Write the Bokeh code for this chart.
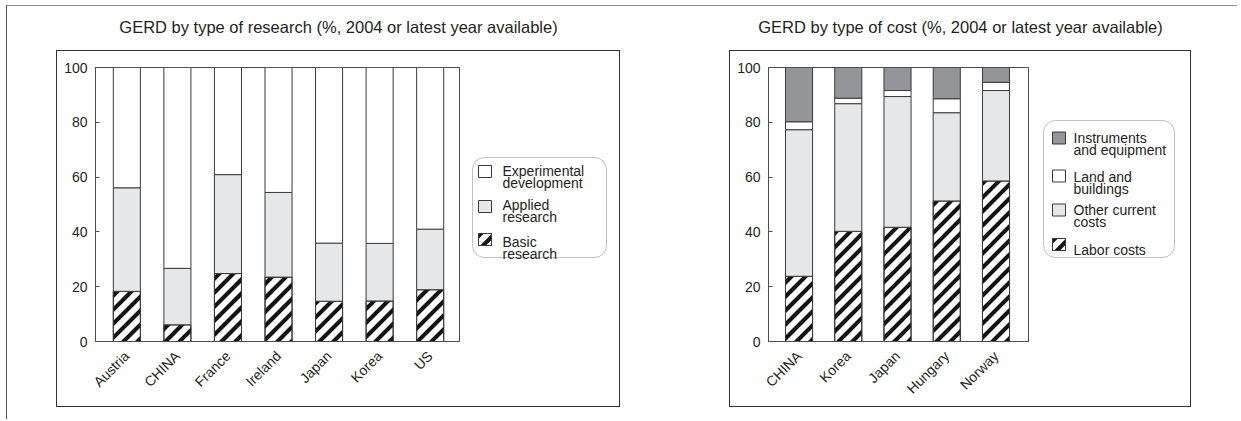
import math
from bokeh.plotting import figure
from bokeh.models import Range1d, FixedTicker, BoxAnnotation, Spacer
from bokeh.layouts import row, column
from bokeh.embed import file_html
from bokeh.resources import INLINE
from bokeh.core.properties import value

FONT = "Liberation Sans"
TXT = "#231f20"

# ---------------- data: GERD by type of research ----------------
research_title = "GERD by type of research (%, 2004 or latest year available)"
research_countries = ["Austria", "CHINA", "France", "Ireland", "Japan", "Korea", "US"]
basic_research = [18.3, 6.1, 24.8, 23.5, 14.7, 14.8, 18.9]
applied_research = [37.8, 20.6, 36.1, 30.9, 21.2, 21.0, 22.1]
experimental_development = [43.9, 73.3, 39.1, 45.6, 64.1, 64.2, 59.0]
research_legend = [["Experimental", "development"], ["Applied", "research"], ["Basic", "research"]]

# ---------------- data: GERD by type of cost ----------------
cost_title = "GERD by type of cost (%, 2004 or latest year available)"
cost_countries = ["CHINA", "Korea", "Japan", "Hungary", "Norway"]
labor_costs = [23.8, 40.2, 41.7, 51.3, 58.6]
other_current_costs = [53.5, 46.6, 47.7, 32.2, 33.0]
land_and_buildings = [2.9, 2.0, 2.2, 5.1, 3.0]
instruments_equipment = [19.8, 11.2, 8.4, 11.4, 5.4]
cost_legend = [["Instruments", "and equipment"], ["Land and", "buildings"],
               ["Other current", "costs"], ["Labor costs"]]
y_ticks = [0, 20, 40, 60, 80, 100]

WHITE = "#ffffff"
LIGHT = "#e6e7e8"
DARK = "#939598"
EDGE = "#3a3a3a"
STRIPE = "#141414"

FIG_H = 355
B_TOP, B_BOT = 16, 65
FRAME_H = FIG_H - B_TOP - B_BOT
X0 = -0.62
PERIOD = 14.0      # stripe period in screen px
HALF = 2.9         # half band width, measured along x - y (screen px)


def _clip(poly, a, b, c):
    """Sutherland-Hodgman: keep part of poly where a*x + b*y <= c."""
    out = []
    n = len(poly)
    for i in range(n):
        p, q = poly[i], poly[(i + 1) % n]
        fp = a * p[0] + b * p[1] - c
        fq = a * q[0] + b * q[1] - c
        if fp <= 0:
            out.append(p)
        if (fp < 0 < fq) or (fq < 0 < fp):
            t = fp / (fp - fq)
            out.append((p[0] + t * (q[0] - p[0]), p[1] + t * (q[1] - p[1])))
    return out


def stripe_polys(x0, x1, y0, y1, phase=0.0):
    """45-degree '/' stripes inside a screen rectangle (y up)."""
    rect = [(x0, y0), (x1, y0), (x1, y1), (x0, y1)]
    dmin, dmax = x0 - y1, x1 - y0
    k0 = math.floor((dmin - HALF - phase) / PERIOD)
    k1 = math.ceil((dmax + HALF - phase) / PERIOD)
    polys = []
    for k in range(k0, k1 + 1):
        c = phase + k * PERIOD
        poly = _clip(rect, 1, -1, c + HALF)
        poly = _clip(poly, -1, 1, -(c - HALF))
        if len(poly) >= 3:
            polys.append(poly)
    return polys


def make_chart(cats, series, styles, width, x_end, bar_w):
    p = figure(width=width, height=FIG_H, x_range=Range1d(X0, x_end),
               y_range=Range1d(0, 100), output_backend="svg", toolbar_location=None,
               min_border_left=38, min_border_right=2, min_border_top=B_TOP,
               min_border_bottom=B_BOT, background_fill_color="white",
               border_fill_color="white")
    sx = (width - 40) / (x_end - X0)
    sy = FRAME_H / 100.0
    xs = list(range(len(cats)))
    bottoms = [0.0] * len(cats)
    for vals, st in zip(series, styles):
        tops = [b + v for b, v in zip(bottoms, vals)]
        p.vbar(x=xs, width=bar_w, bottom=bottoms, top=tops, fill_color=st["fill"],
               line_color=EDGE, line_width=1)
        if st.get("hatch"):
            pxs, pys = [], []
            for x, b, t in zip(xs, bottoms, tops):
                l_px = (x - bar_w / 2 - X0) * sx
                r_px = (x + bar_w / 2 - X0) * sx
                for poly in stripe_polys(l_px, r_px, b * sy, t * sy):
                    pxs.append([q[0] / sx + X0 for q in poly])
                    pys.append([q[1] / sy for q in poly])
            p.patches(xs=pxs, ys=pys, fill_color=STRIPE, line_color=None)
            p.vbar(x=xs, width=bar_w, bottom=bottoms, top=tops, fill_color=None,
                   line_color=EDGE, line_width=1)
        bottoms = tops
    p.xgrid.visible = False
    p.ygrid.visible = False
    p.outline_line_color = "#4d4d4d"
    p.outline_line_width = 1
    p.xaxis.ticker = FixedTicker(ticks=xs)
    p.xaxis.major_label_overrides = {i: c for i, c in enumerate(cats)}
    p.xaxis.major_label_orientation = math.pi / 4
    p.xaxis.major_tick_line_color = None
    p.xaxis.minor_tick_line_color = None
    p.xaxis.major_label_standoff = 6
    p.yaxis.ticker = FixedTicker(ticks=y_ticks)
    p.yaxis.major_tick_in = 4
    p.yaxis.major_tick_out = 0
    p.yaxis.major_tick_line_color = "#4d4d4d"
    p.yaxis.minor_tick_line_color = None
    p.yaxis.major_label_standoff = 8
    for ax in (p.xaxis, p.yaxis):
        ax.axis_line_color = "#4d4d4d"
        ax.major_label_text_font = FONT
        ax.major_label_text_font_size = "14px"
        ax.major_label_text_color = TXT
    return p


def make_title(text, width, height):
    t = figure(width=width, height=height, x_range=Range1d(0, width),
               y_range=Range1d(height, 0), output_backend="svg", toolbar_location=None,
               x_axis_type=None, y_axis_type=None, min_border=0, outline_line_color=None)
    t.text(x=[width / 2], y=[20], text=[text], text_align="center",
           text_baseline="middle", text_font=value(FONT), text_font_size="16.5px",
           text_color=TXT)
    return t


def make_legend(width, box, items, styles, sw_x, txt_x):
    # frame spans fig pixels B_TOP..FIG_H-B_BOT; data y == fig pixel y (downwards)
    lg = figure(width=width, height=FIG_H, x_range=Range1d(0, width),
                y_range=Range1d(FIG_H - B_BOT, B_TOP), output_backend="svg",
                toolbar_location=None, x_axis_type=None, y_axis_type=None,
                min_border_left=0, min_border_right=0, min_border_top=B_TOP,
                min_border_bottom=B_BOT, outline_line_color=None)
    l, r, t, b = box
    try:
        ba = BoxAnnotation(left=l, right=r, top=t, bottom=b, fill_color=None,
                           line_color="#333333", line_width=1, border_radius=12)
    except Exception:
        ba = BoxAnnotation(left=l, right=r, top=t, bottom=b, fill_color=None,
                           line_color="#333333", line_width=1)
    lg.add_layout(ba)
    for (cy, base, lines), st in zip(items, styles):
        sl, sr, st_, sb = sw_x, sw_x + 13, cy - 6, cy + 6
        lg.quad(left=[sl], right=[sr], top=[st_], bottom=[sb], fill_color=st["fill"],
                line_color=EDGE, line_width=1)
        if st.get("hatch"):
            phase = (sl + sr) / 2 + cy + 4
            polys = stripe_polys(sl, sr, -sb, -st_, phase=phase)
            lg.patches(xs=[[q[0] for q in pg] for pg in polys],
                       ys=[[-q[1] for q in pg] for pg in polys],
                       fill_color=STRIPE, line_color=None)
            lg.quad(left=[sl], right=[sr], top=[st_], bottom=[sb], fill_color=None,
                    line_color=EDGE, line_width=1)
        ys = [base + 12.5 * i for i in range(len(lines))]
        lg.text(x=[txt_x] * len(lines), y=ys, text=lines, text_align="left",
                text_baseline="alphabetic", text_font=value(FONT),
                text_font_size="14px", text_color=TXT)
    return lg


# ---- left panel ----
r_styles = [dict(fill=WHITE, hatch=True), dict(fill=LIGHT), dict(fill=WHITE)]
left_chart = make_chart(research_countries,
                        [basic_research, applied_research, experimental_development],
                        r_styles, 404, 6.58, 0.535)
left_leg = make_legend(
    158, (11, 145, 106, 206),
    [(120, 119, research_legend[0]), (155, 153, research_legend[1]),
     (188, 190, research_legend[2])],
    [dict(fill=WHITE), dict(fill=LIGHT), dict(fill=WHITE, hatch=True)], 17, 41)
left_title = make_title(research_title, 564, 44)
left_box = row(left_chart, left_leg, styles={"border": "1px solid #333333"})
left_panel = column(left_title, left_box)

# ---- right panel ----
c_styles = [dict(fill=WHITE, hatch=True), dict(fill=LIGHT), dict(fill=WHITE), dict(fill=DARK)]
right_chart = make_chart(cost_countries,
                         [labor_costs, other_current_costs, land_and_buildings,
                          instruments_equipment],
                         c_styles, 300, 4.66, 0.55)
right_leg = make_legend(
    160, (13, 144, 69, 206),
    [(86.5, 86, cost_legend[0]), (124.5, 125, cost_legend[1]),
     (158.5, 158, cost_legend[2]), (193, 198, cost_legend[3])],
    [dict(fill=DARK), dict(fill=WHITE), dict(fill=LIGHT), dict(fill=WHITE, hatch=True)],
    22, 43)
right_title = make_title(cost_title, 462, 44)
right_box = row(right_chart, right_leg, styles={"border": "1px solid #333333"})
right_panel = column(right_title, right_box)

main = row(Spacer(width=49), left_panel, Spacer(width=109), right_panel, Spacer(width=46))
framed = column(main, Spacer(height=12),
                styles={"border-top": "1px solid #8a8a8a", "border-left": "1px solid #555555"})
page = column(Spacer(height=5), row(Spacer(width=6), framed))

open("out.html", "w").write(file_html(page, INLINE))
